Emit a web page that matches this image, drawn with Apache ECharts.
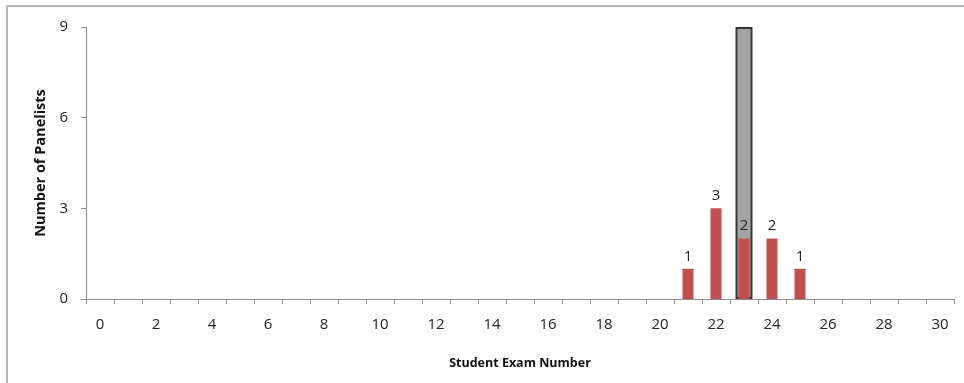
<!DOCTYPE html>
<html>
<head>
<meta charset="utf-8">
<script src="https://cdn.jsdelivr.net/npm/echarts@6/dist/echarts.min.js"></script>
<style>
  html, body { margin: 0; padding: 0; background: #fff; }
  #chart { width: 964px; height: 383px; }
</style>
</head>
<body>
<div id="chart"></div>
<script>
// Exam numbers on the category axis
const examNumbers = ['0','1','2','3','4','5','6','7','8','9','10','11','12','13','14','15',
  '16','17','18','19','20','21','22','23','24','25','26','27','28','29','30'];

// Panelists choosing each exam number (red bars)
const panelistCounts = [0,0,0,0,0,0,0,0,0,0,0,0,0,0,0,0,0,0,0,0,0,1,3,2,2,1,0,0,0,0,0];

// Highlighted exam number (grey background bar)
const highlightCounts = [0,0,0,0,0,0,0,0,0,0,0,0,0,0,0,0,0,0,0,0,0,0,0,9,0,0,0,0,0,0,0];

// Value-axis ticks
const yTicks = [0, 3, 6, 9];

const FONT = 'Open Sans';
const chart = echarts.init(document.getElementById('chart'), null, { renderer: 'canvas' });

// Empty slots are skipped so that no outlined stubs appear on the baseline
const highlightData = highlightCounts.map(v => (v > 0 ? v : '-'));

chart.setOption({
  animation: false,
  textStyle: { fontFamily: FONT },
  graphic: [{
    type: 'rect',
    shape: { x: 7, y: 6, width: 1000, height: 500 },
    style: { fill: 'none', stroke: '#a0a0a0', lineWidth: 1.5 },
    silent: true, z: -1
  }],
  grid: { left: 86, right: 10, top: 27, bottom: 84 },
  xAxis: [{
    type: 'category',
    data: examNumbers,
    boundaryGap: true,
    name: 'Student Exam Number',
    nameLocation: 'middle',
    nameGap: 58,
    nameTextStyle: { fontFamily: FONT, fontSize: 12.5, fontWeight: 'bold', color: '#111' },
    axisLine: { lineStyle: { color: '#8c8c8c', width: 1 } },
    axisTick: { show: true, interval: 0, length: 5, inside: false, lineStyle: { color: '#8c8c8c' } },
    axisLabel: { interval: 1, margin: 18, fontSize: 15, color: '#222', fontFamily: FONT },
    splitLine: { show: false }
  }, {
    type: 'category',
    data: examNumbers,
    boundaryGap: true,
    show: false,
    position: 'bottom'
  }],
  yAxis: {
    type: 'value',
    min: yTicks[0],
    max: yTicks[yTicks.length - 1],
    interval: 3,
    name: 'Number of Panelists',
    nameLocation: 'middle',
    nameGap: 36,
    nameRotate: 90,
    nameTextStyle: { fontFamily: FONT, fontSize: 14.5, fontWeight: 'bold', color: '#111' },
    axisLine: { show: true, lineStyle: { color: '#8c8c8c', width: 1 } },
    axisTick: { show: true, length: 5, lineStyle: { color: '#8c8c8c' } },
    axisLabel: { margin: 18, fontSize: 15, color: '#222', fontFamily: FONT },
    splitLine: { show: false }
  },
  series: [{
    type: 'bar',
    xAxisIndex: 1,
    data: highlightData,
    barWidth: 17,
    z: 1,
    itemStyle: { color: '#a6a6a6', borderColor: '#3a3a3a', borderWidth: 2 },
    silent: true
  }, {
    type: 'bar',
    xAxisIndex: 0,
    data: panelistCounts,
    barWidth: 11,
    z: 2,
    itemStyle: { color: '#c0504d' },
    label: {
      show: true,
      position: 'top',
      distance: 5,
      fontSize: 15,
      color: '#222',
      fontFamily: FONT,
      formatter: p => (p.value > 0 ? String(p.value) : '')
    }
  }]
});
</script>
</body>
</html>
